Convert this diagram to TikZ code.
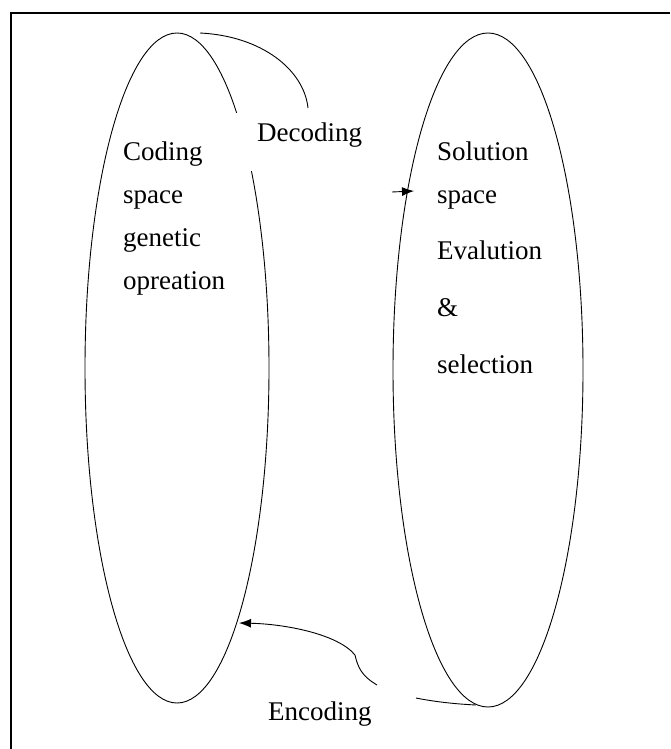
\documentclass[tikz,border=0pt]{standalone}
\usepackage{fontspec}
\setmainfont{Liberation Serif}
\usetikzlibrary{shapes.geometric,arrows.meta}
\begin{document}
\begin{tikzpicture}[x=1pt,y=-1pt,
  space/.style={draw, ellipse, line width=0.9pt, inner sep=0pt},
  lbl/.style={anchor=base west, inner sep=0pt, font=\fontsize{27}{30}\selectfont},
  conn/.style={line width=0.9pt},
  frame/.style={line width=2.2pt}]
\useasboundingbox (0,0) rectangle (670,749);
% frame (only top and left edges visible)
\coordinate (f1) at (11,749);
\coordinate (f2) at (11,13);
\coordinate (f3) at (670,13);
\draw[frame] (f1) -- (f2) -- (f3);
% ellipses
\node[space, minimum width=184pt, minimum height=670pt] (coding) at (177,368) {};
\node[space, minimum width=190pt, minimum height=674pt] (solution) at (488,370) {};
% white gap behind Decoding
\fill[white] (236,113) rectangle (372,171);
% texts
\node[lbl] (decoding) at (257,142) {Decoding};
\node[lbl] (t1) at (123,160) {Coding};
\node[lbl] (t2) at (123,203) {space};
\node[lbl] (t3) at (123,246) {genetic};
\node[lbl] (t4) at (123,289) {opreation};
\node[lbl] (s1) at (437,160) {Solution};
\node[lbl] (s2) at (437,203) {space};
\node[lbl] (s3) at (437,259) {Evalution};
\node[lbl] (s4) at (437,316) {\&};
\node[lbl] (s5) at (437,373) {selection};
\node[lbl] (encoding) at (268,720) {Encoding};
% Decoding connector
\coordinate (d0) at (200,33);
\coordinate (d1) at (308,108);
\draw[conn] (d0) .. controls (262,36) and (304,70) .. (d1);
\coordinate (a0) at (392,192);
\coordinate (a1) at (414,191);
\draw[conn, -{Latex[length=12pt,width=9pt]}] (a0) -- (a1);
% Encoding connector
\coordinate (e0) at (377,685);
\coordinate (e1) at (355,655);
\coordinate (e2) at (239,623);
\draw[conn, -{Latex[length=12pt,width=9pt]}] (e0) .. controls (362,676) and (358,668) .. (e1) .. controls (338,634) and (285,624) .. (e2);
\coordinate (g0) at (416,698);
\coordinate (g1) at (476,705);
\draw[conn] (g0) .. controls (436,702) and (456,704) .. (g1);
\end{tikzpicture}
\end{document}
